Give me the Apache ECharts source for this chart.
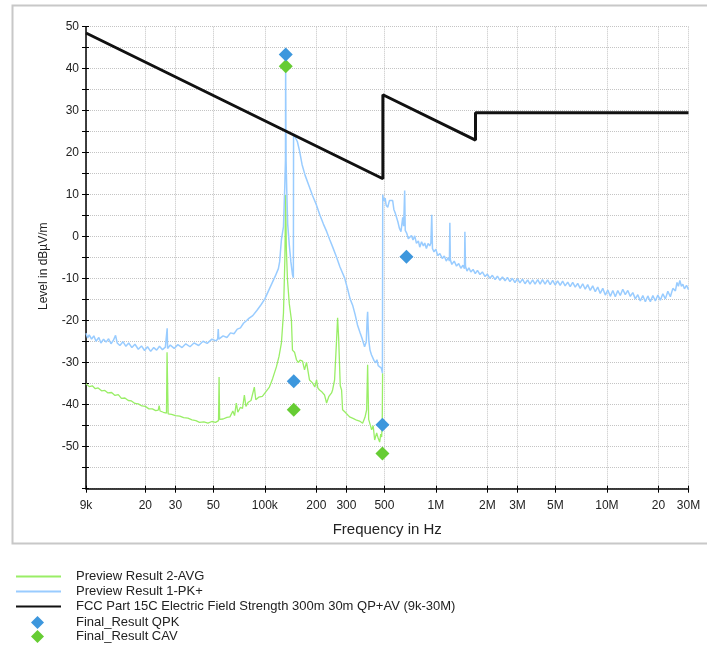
<!DOCTYPE html>
<html><head><meta charset="utf-8">
<script src="https://cdn.jsdelivr.net/npm/echarts@6/dist/echarts.min.js"></script>
<style>html,body{margin:0;padding:0;background:#fff}#c{width:707px;height:647px}</style>
</head><body><div id="c"></div>
<script>
// ---- tick definitions (Hz) ----
const xTickValues = [9000,20000,30000,50000,100000,200000,300000,500000,1000000,2000000,3000000,5000000,10000000,20000000,30000000];
const xTickLabels = ['9k','20','30','50','100k','200','300','500','1M','2M','3M','5M','10M','20','30M'];

// ---- series values: [frequency in kHz, level in dBµV/m] ----
const pkTrace = [
[9.0,-23.0],[9.2,-24.1],[9.4,-23.4],[9.7,-24.4],[10.0,-23.6],[10.3,-24.9],[10.7,-24.0],[11.0,-25.3],[11.4,-24.4],[11.8,-25.1],
[12.2,-24.3],[12.6,-25.5],[13.0,-24.7],[13.4,-23.5],[13.7,-25.3],[14.2,-25.9],[14.8,-25.0],[15.4,-26.1],[16.0,-25.3],[16.7,-26.4],
[17.4,-25.6],[18.2,-26.8],[19.0,-26.0],[19.8,-27.1],[20.6,-26.2],[21.5,-27.3],[22.4,-26.4],[23.3,-27.0],[24.2,-26.1],[25.2,-26.9],
[26.2,-26.3],[26.7,-26.6],[26.85,-21.8],[27.0,-26.6],[28.0,-25.8],[29.5,-26.6],[31.0,-25.7],[32.8,-26.4],[34.5,-25.5],[36.5,-26.2],
[38.5,-25.3],[41.0,-25.9],[43.5,-24.9],[46.0,-25.4],[49.0,-24.4],[52.0,-24.8],[53.0,-24.3],[53.4,-22.0],[53.8,-24.4],[57.0,-23.6],
[60.0,-24.0],[63.0,-22.9],[66.0,-23.1],[69.0,-22.0],[72.0,-21.7],[75.0,-20.6],[78.0,-20.0],[81.0,-19.4],[85.0,-18.8],[90.0,-17.5],
[95.0,-16.2],[100.0,-14.8],[105.0,-12.9],[110.0,-11.1],[115.0,-9.4],[120.0,-7.6],[122.0,-6.0],[125.0,-0.7],[128.5,2.4],[130.8,12.0],
[132.0,18.4],[132.3,41.0],[132.7,41.0],[133.1,18.0],[134.5,10.0],[136.0,3.0],[139.0,-2.0],[142.0,-6.0],[145.0,-9.0],[146.8,-9.8],
[147.2,24.5],[151.0,24.6],[155.0,22.6],[159.4,20.5],[165.0,17.2],[172.0,14.6],[182.4,11.8],[190.0,9.8],[200.0,7.6],[210.0,5.1],
[220.0,3.0],[230.0,1.2],[240.0,-0.8],[250.0,-2.6],[262.0,-4.8],[275.0,-7.2],[292.6,-9.8],[305.0,-12.5],[315.0,-14.8],[326.0,-16.3],
[337.0,-18.5],[348.0,-21.0],[360.0,-22.8],[370.0,-24.2],[383.0,-26.2],[392.0,-25.0],[396.0,-20.0],[399.0,-17.9],[402.0,-21.5],[406.0,-25.0],
[412.0,-27.0],[420.0,-28.1],[427.0,-28.5],[435.0,-29.5],[445.0,-30.0],[452.0,-29.3],[460.0,-30.7],[470.0,-31.0],[480.0,-31.3],[487.0,-32.5],
[489.0,10.0],[495.0,8.5],[505.0,9.2],[512.0,7.5],[523.0,7.0],[535.0,8.6],[545.0,9.0],[559.0,8.6],[568.0,6.5],[580.0,5.5],
[590.0,5.9],[600.0,3.5],[612.0,2.0],[625.0,1.2],[632.0,1.0],[640.0,4.6],[648.0,2.5],[657.0,11.0],[662.0,1.5],[676.0,0.8],
[690.0,-0.5],[704.0,-0.9],[720.0,0.3],[735.0,-0.8],[752.0,0.2],[770.0,-1.6],[790.0,-1.0],[805.0,-2.5],[825.0,-1.2],[845.0,-2.2],
[861.0,-1.5],[880.0,-2.8],[900.0,-1.6],[921.0,-2.2],[935.0,-1.5],[946.0,5.2],[955.0,-2.8],[975.0,-3.6],[1000.0,-3.0],[1025.0,-4.5],
[1055.0,-4.0],[1090.0,-5.2],[1120.0,-4.6],[1150.0,-5.8],[1180.0,-5.0],[1200.0,-5.8],[1207.0,3.3],[1215.0,-5.5],[1240.0,-6.6],[1280.0,-5.8],
[1320.0,-7.0],[1360.0,-6.4],[1400.0,-7.5],[1440.0,-6.8],[1470.0,-7.6],[1478.0,1.2],[1490.0,-7.0],[1520.0,-8.2],[1560.0,-7.4],[1600.0,-8.4],
[1650.0,-7.8],[1700.0,-8.8],[1750.0,-8.0],[1810.0,-9.0],[1870.0,-8.4],[1940.0,-9.5],[2000.0,-8.9],[2070.0,-9.9],[2140.0,-9.2],[2220.0,-10.2],
[2290.0,-9.4],[2370.0,-10.4],[2450.0,-9.6],[2540.0,-10.5],[2620.0,-9.7],[2710.0,-10.7],[2800.0,-9.9],[2900.0,-10.9],[3000.0,-10.0],[3100.0,-11.0],
[3210.0,-10.1],[3320.0,-11.2],[3440.0,-10.3],[3550.0,-11.3],[3680.0,-10.3],[3800.0,-11.3],[3940.0,-10.2],[4070.0,-11.3],[4200.0,-10.2],[4350.0,-11.3],
[4500.0,-10.3],[4660.0,-11.4],[4820.0,-10.4],[4980.0,-11.5],[5150.0,-10.5],[5330.0,-11.6],[5510.0,-10.6],[5700.0,-11.7],[5900.0,-10.8],[6100.0,-11.9],
[6310.0,-10.9],[6530.0,-12.0],[6750.0,-11.1],[6980.0,-12.3],[7220.0,-11.2],[7470.0,-12.5],[7720.0,-11.4],[7990.0,-12.8],[8260.0,-11.7],[8550.0,-13.1],
[8840.0,-12.0],[9140.0,-13.5],[9460.0,-12.3],[9790.0,-13.9],[10120.0,-12.7],[10470.0,-14.2],[10830.0,-12.8],[11200.0,-14.3],[11580.0,-12.8],[11970.0,-14.0],
[12380.0,-12.5],[12810.0,-13.8],[13250.0,-12.8],[13700.0,-14.2],[14170.0,-13.3],[14660.0,-14.8],[15160.0,-13.8],[15680.0,-15.3],[16220.0,-14.0],[16780.0,-15.5],
[17350.0,-14.1],[17950.0,-15.5],[18570.0,-14.0],[19200.0,-15.3],[19860.0,-13.9],[20540.0,-15.1],[21240.0,-13.6],[21970.0,-14.8],[22720.0,-13.0],[23500.0,-14.3],
[24310.0,-12.3],[25150.0,-12.9],[25700.0,-10.9],[26190.0,-11.8],[26700.0,-10.4],[27270.0,-11.8],[27800.0,-11.3],[28400.0,-12.4],[29200.0,-11.6],[30000.0,-12.6]
];
const avgTrace = [
[9.0,-35.0],[9.4,-35.7],[9.8,-35.5],[10.2,-36.2],[10.6,-36.0],[11.1,-36.7],[11.6,-36.6],[12.1,-37.2],[12.7,-37.1],[13.3,-37.8],
[13.9,-37.6],[14.5,-38.5],[15.2,-38.4],[15.9,-39.0],[16.6,-39.1],[17.4,-39.7],[18.2,-39.8],[19.1,-40.3],[20.0,-40.4],[21.0,-41.0],
[22.0,-41.0],[23.0,-41.4],[23.8,-41.3],[24.1,-40.2],[24.4,-41.5],[25.5,-41.8],[26.6,-42.0],[26.8,-27.5],[27.0,-27.8],[27.2,-42.2],
[28.5,-42.3],[30.0,-42.6],[31.8,-42.7],[33.5,-43.1],[35.5,-43.2],[37.5,-43.6],[39.5,-43.8],[41.5,-44.2],[44.0,-44.1],[46.5,-44.4],
[49.0,-44.0],[51.5,-44.2],[53.6,-43.8],[54.0,-33.4],[54.4,-43.5],[57.0,-43.4],[60.0,-43.0],[62.5,-42.9],[65.0,-41.5],[66.5,-42.6],
[68.1,-39.6],[69.5,-41.8],[72.0,-40.6],[74.0,-40.9],[75.9,-37.7],[77.5,-40.4],[80.0,-39.4],[83.0,-39.0],[86.8,-35.8],[88.5,-38.8],
[92.0,-38.2],[96.7,-38.0],[101.0,-37.0],[106.3,-35.8],[111.0,-33.8],[116.8,-31.0],[121.0,-28.5],[125.0,-25.3],[128.5,-18.2],[131.0,-5.0],
[132.2,10.0],[132.7,10.0],[133.6,-3.0],[135.6,-10.2],[139.0,-16.0],[143.0,-19.8],[145.0,-27.0],[147.0,-27.3],[149.1,-27.5],[153.1,-29.3],
[157.0,-30.0],[160.5,-29.4],[166.0,-29.6],[170.6,-31.7],[175.3,-29.9],[182.4,-34.1],[190.0,-34.8],[196.0,-35.8],[200.6,-34.1],[204.0,-36.0],
[208.8,-36.5],[216.0,-37.0],[223.4,-37.7],[229.6,-39.6],[237.0,-38.0],[245.5,-37.2],[248.9,-36.5],[255.7,-34.1],[262.7,-24.5],[266.3,-19.3],
[270.0,-24.0],[276.0,-35.5],[281.0,-36.5],[284.8,-41.2],[295.0,-41.8],[313.0,-42.9],[330.0,-43.3],[344.1,-43.7],[358.0,-43.9],[373.0,-44.4],
[385.0,-43.0],[393.8,-41.2],[399.0,-30.5],[404.6,-43.5],[421.2,-46.0],[430.0,-45.0],[438.6,-48.4],[450.7,-46.7],[460.0,-48.0],[469.3,-48.9],
[476.0,-47.0],[482.2,-47.7],[486.0,-43.0],[488.0,-32.5]
];
const limitTrace = [[9,48.5],[490,13.8],[490,33.8],[1705,23.0],[1705,29.5],[30000,29.5]];
const qpkPoints = [[132.5,43.4],[147.6,-34.4],[487,-44.8],[673,-4.8]];
const cavPoints = [[132.5,40.6],[147.6,-41.2],[487,-51.6]];

const toHz = arr => arr.map(p => [p[0] * 1000, p[1]]);
const FONT = 'Liberation Sans, Arial, sans-serif';
const gridRect = {left: 86, right: 18.5, top: 26.7, bottom: 158.3};

const NAME_AVG = 'Preview Result 2-AVG';
const NAME_PK = 'Preview Result 1-PK+';
const NAME_LIM = 'FCC Part 15C Electric Field Strength 300m 30m QP+AV (9k-30M)';
const NAME_QPK = 'Final_Result QPK';
const NAME_CAV = 'Final_Result CAV';

function xLabel(v) {
  for (let i = 0; i < xTickValues.length; i++) {
    if (Math.abs(v - xTickValues[i]) / xTickValues[i] < 1e-3) return xTickLabels[i];
  }
  return '';
}

const legendText = {fontSize: 13, color: '#222', fontFamily: FONT};

const chart = echarts.init(document.getElementById('c'), null, {renderer: 'canvas'});
chart.setOption({
  animation: false,
  backgroundColor: '#fff',
  textStyle: {fontFamily: FONT},
  graphic: [{
    type: 'rect', left: 10, top: 3, z: -10,
    shape: {x: 0, y: 0, width: 700, height: 538},
    style: {fill: 'none', stroke: '#c8c8c8', lineWidth: 2}
  }],
  grid: [Object.assign({}, gridRect), Object.assign({}, gridRect)],
  xAxis: [{
    type: 'log', logBase: 10, min: 9000, max: 30000000, gridIndex: 0, position: 'bottom',
    name: 'Frequency in Hz', nameLocation: 'middle', nameGap: 34,
    nameTextStyle: {fontSize: 15, color: '#222', fontFamily: FONT},
    axisLine: {show: true, onZero: false, lineStyle: {color: '#000', width: 1.5}},
    axisTick: {show: true, length: 4, customValues: xTickValues, lineStyle: {color: '#000', width: 1}},
    axisLabel: {customValues: xTickValues, formatter: xLabel, fontSize: 12, color: '#222', margin: 11, fontFamily: FONT},
    splitLine: {show: true, lineStyle: {color: '#c4c4c4', type: 'dotted', width: 1}}
  }, {
    type: 'log', logBase: 10, min: 9000, max: 30000000, gridIndex: 1, position: 'bottom',
    axisLine: {show: false, onZero: false},
    axisTick: {show: true, inside: true, length: 3, customValues: xTickValues, lineStyle: {color: '#000', width: 1}},
    axisLabel: {show: false},
    splitLine: {show: false}
  }],
  yAxis: [{
    type: 'value', min: -60, max: 50, interval: 5, gridIndex: 0, position: 'left',
    name: 'Level in dBµV/m', nameLocation: 'middle', nameGap: 36,
    nameTextStyle: {fontSize: 12, color: '#222', fontFamily: FONT, padding: [0, 17, 0, 0]},
    axisLine: {show: true, onZero: false, lineStyle: {color: '#000', width: 1.5}},
    axisTick: {show: true, length: 4, lineStyle: {color: '#000', width: 1}},
    axisLabel: {formatter: v => (v % 10 === 0 && v > -60) ? String(v) : '', fontSize: 12, color: '#222', margin: 7, fontFamily: FONT},
    splitLine: {show: true, lineStyle: {color: '#c4c4c4', type: 'dotted', width: 1}}
  }, {
    type: 'value', min: -60, max: 50, interval: 5, gridIndex: 1, position: 'left',
    axisLine: {show: false, onZero: false},
    axisTick: {show: true, inside: true, length: 3, lineStyle: {color: '#000', width: 1}},
    axisLabel: {show: false},
    splitLine: {show: false}
  }],
  legend: [{
    orient: 'vertical', left: 10, top: 565, height: 60, itemWidth: 45, itemHeight: 12, itemGap: 2,
    textStyle: Object.assign({padding: [0, 0, 0, 10]}, legendText),
    data: [
      {name: NAME_AVG, itemStyle: {opacity: 0}},
      {name: NAME_PK, itemStyle: {opacity: 0}},
      {name: NAME_LIM, itemStyle: {opacity: 0}}
    ]
  }, {
    orient: 'vertical', left: 26, top: 611, height: 40, itemWidth: 13, itemHeight: 13, itemGap: 1,
    textStyle: Object.assign({padding: [0, 0, 0, 27]}, legendText),
    data: [{name: NAME_QPK}, {name: NAME_CAV}]
  }],
  series: [{
    name: NAME_AVG, type: 'line', symbol: 'none', xAxisIndex: 0, yAxisIndex: 0,
    data: toHz(avgTrace), lineStyle: {color: '#99ee66', width: 1.3}, itemStyle: {color: '#99ee66'}, z: 2
  }, {
    name: NAME_PK, type: 'line', symbol: 'none', xAxisIndex: 0, yAxisIndex: 0,
    data: toHz(pkTrace), lineStyle: {color: '#99ccff', width: 1.5}, itemStyle: {color: '#99ccff'}, z: 3
  }, {
    name: NAME_LIM, type: 'line', symbol: 'none', xAxisIndex: 0, yAxisIndex: 0,
    data: toHz(limitTrace), lineStyle: {color: '#111', width: 3}, itemStyle: {color: '#111'}, z: 4
  }, {
    name: NAME_QPK, type: 'scatter', symbol: 'diamond', symbolSize: 14, symbolKeepAspect: true,
    data: toHz(qpkPoints), itemStyle: {color: '#3d97dd', opacity: 1}, z: 6
  }, {
    name: NAME_CAV, type: 'scatter', symbol: 'diamond', symbolSize: 14, symbolKeepAspect: true,
    data: toHz(cavPoints), itemStyle: {color: '#66cc33', opacity: 1}, z: 5
  }]
});
</script>
</body></html>
